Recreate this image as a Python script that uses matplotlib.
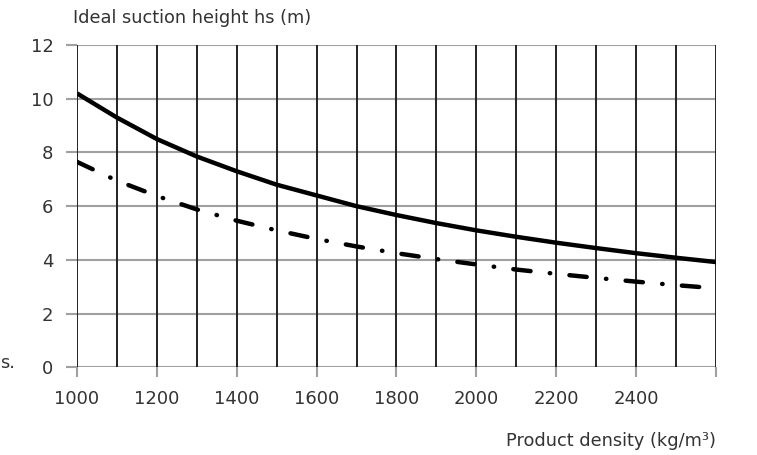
import matplotlib
matplotlib.use("Agg")
from matplotlib import pyplot

# values
density = [1000, 1100, 1200, 1300, 1400, 1500, 1600, 1700, 1800,
           1900, 2000, 2100, 2200, 2300, 2400, 2500, 2600]
hs_solid = [10.2, 9.3, 8.5, 7.85, 7.3, 6.8, 6.4, 6.0, 5.67,
            5.37, 5.1, 4.86, 4.64, 4.44, 4.25, 4.08, 3.92]
density_dd = [1000, 1100, 1200, 1300, 1400, 1500, 1600, 1700, 1800,
              1900, 2000, 2100, 2200, 2300, 2400, 2500, 2560]
hs_dashdot = [7.65, 6.95, 6.38, 5.88, 5.46, 5.1, 4.78, 4.5, 4.25,
              4.03, 3.83, 3.64, 3.48, 3.33, 3.19, 3.06, 2.99]

xgrid = list(range(1000, 2601, 100))
xticks = list(range(1000, 2601, 200))
xticklabels = ['1000', '1200', '1400', '1600', '1800', '2000', '2200', '2400', '']
yticks = [0, 2, 4, 6, 8, 10, 12]

txt = '#333333'
pyplot.rcParams['font.family'] = ['DejaVu Sans']

fig = pyplot.figure(figsize=(7.57, 4.55), dpi=100)
ax = fig.add_axes([0.1017, 0.1927, 0.8441, 0.7083])

for s in ax.spines.values():
  s.set_visible(False)

for y in yticks:
  ax.axhline(y, color='#a0a0a0', lw=1.5, zorder=1)
for x in xgrid:
  ax.axvline(x, color='#222222', lw=1.4, zorder=2)

ax.plot(density, hs_solid, color='black', lw=3.2, solid_capstyle='butt',
        solid_joinstyle='round', zorder=3)
ax.plot(density_dd, hs_dashdot, color='black', lw=3.2, zorder=3,
        dashes=(3.9, 4.35, 0.1, 4.35), dash_capstyle='round')

ax.set_xlim(1000, 2600)
ax.set_ylim(0, 12)
ax.set_xticks(xticks)
ax.set_xticklabels(xticklabels)
ax.set_yticks(yticks)
ax.tick_params(axis='x', length=7, width=1.5, color='#a0a0a0', pad=9,
               labelsize=13, labelcolor=txt)
ax.tick_params(axis='y', length=8, width=1.5, color='#a0a0a0', pad=9,
               labelsize=13, labelcolor=txt)

fig.text(73/757, 1-18/455, 'Ideal suction height hs (m)', ha='left', va='center',
         fontsize=12.8, color=txt)
fig.text(716/757, 1-441/455, 'Product density (kg/m³)', ha='right', va='center',
         fontsize=12.8, color=txt)
fig.text(0.0, 1-363/455, 's.', ha='left', va='center', fontsize=12.8, color=txt)

fig.savefig('out.png', dpi=100)
